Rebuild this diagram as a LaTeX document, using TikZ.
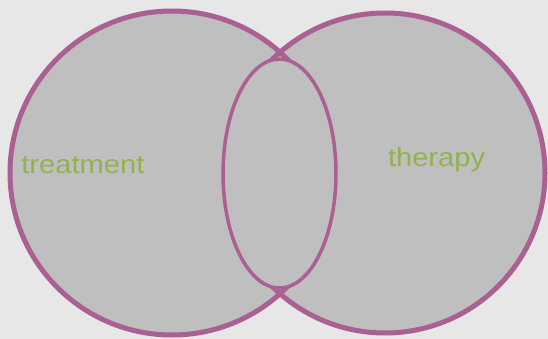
\documentclass[tikz,border=0pt]{standalone}
\usepackage{fontspec}
\setmainfont{Liberation Sans}
\usetikzlibrary{shapes.geometric}
\definecolor{bgc}{HTML}{E7E7E7}
\definecolor{setfill}{HTML}{BFBFBF}
\definecolor{setline}{HTML}{AA6092}
\definecolor{lblc}{HTML}{92B250}
\tikzset{
  setfillstyle/.style={fill=setfill},
  setlinestyle/.style={draw=setline, line width=5pt},
  coreset/.style={ellipse, fill=setfill, draw=setline, line width=3.5pt, minimum width=113pt, minimum height=229pt, inner sep=0pt},
  lbl/.style={text=lblc, inner sep=0pt, font=\fontsize{26}{30}\selectfont}
}
\begin{document}
\begin{tikzpicture}[x=1pt,y=-1pt]
\useasboundingbox (0,0) rectangle (548,339);
\fill[bgc] (0,0) rectangle (548,339);
% two big sets
\coordinate (cl) at (172,173);
\coordinate (cr) at (385,173);
\fill[setfillstyle] (cl) circle (162);
\fill[setfillstyle] (cr) circle (160);
\draw[setlinestyle] (cl) circle (162);
\draw[setlinestyle] (cr) circle (160);
% intersection ellipse
\node[coreset] (mid) at (279.5,173.5) {};
% labels
\node[lbl, anchor=base west] (tr) at (21.2,173.3) {\scalebox{1.12}[1]{treatment}};
\node[lbl, anchor=base west] (th) at (387.8,166.8) {\scalebox{1.12}[1]{therapy}};
\end{tikzpicture}
\end{document}
